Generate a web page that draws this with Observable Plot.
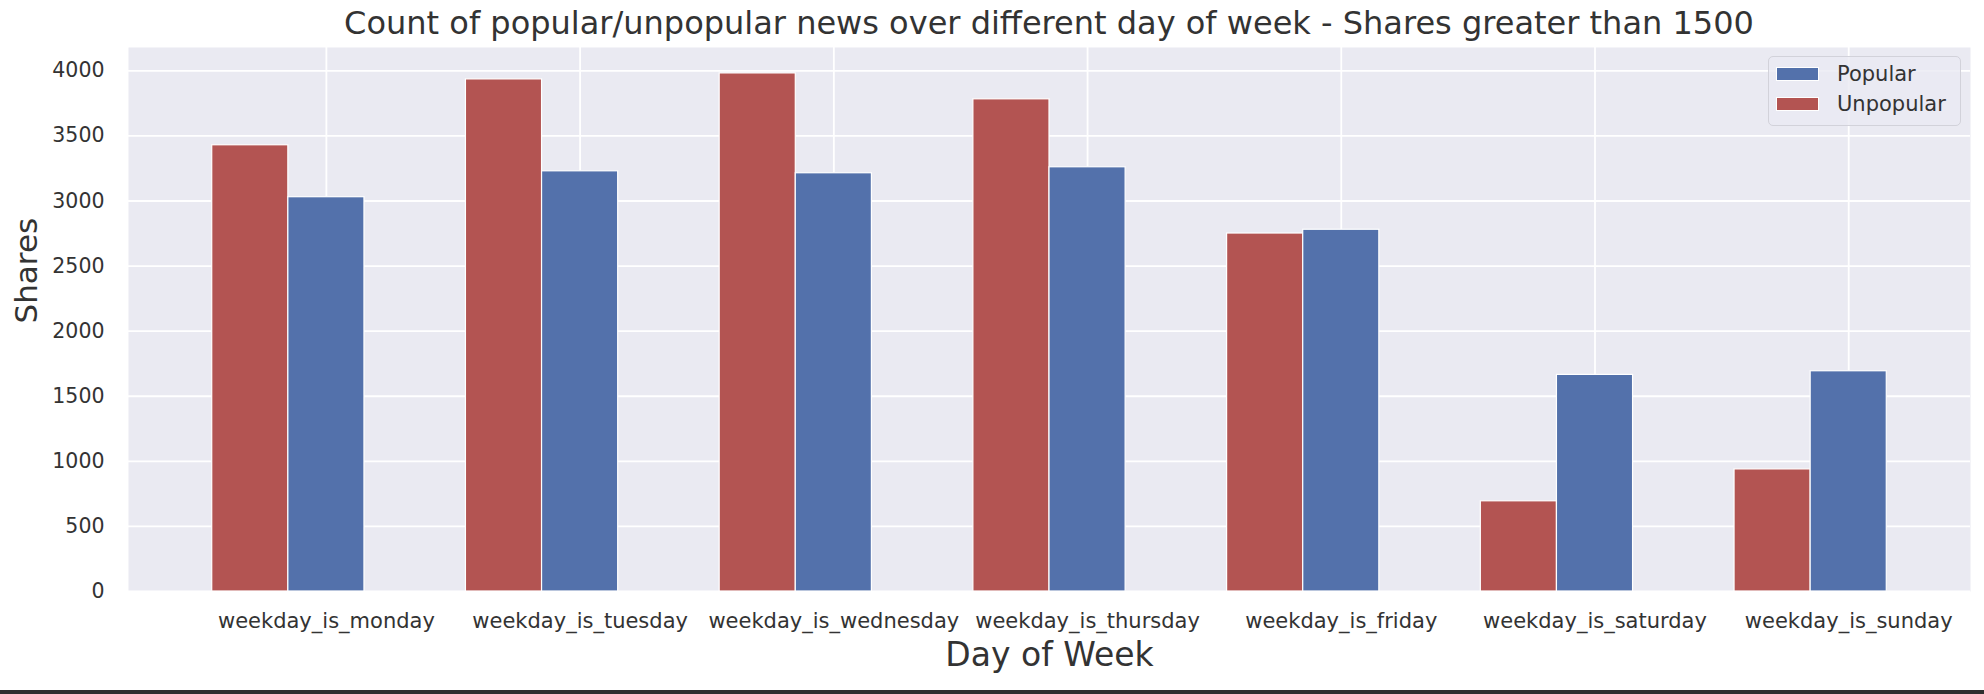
<!DOCTYPE html>
<html>
<head>
<meta charset="utf-8">
<script src="https://cdn.jsdelivr.net/npm/d3@7"></script>
<script src="https://cdn.jsdelivr.net/npm/@observablehq/plot@0.6"></script>
<style>
  html, body { margin: 0; padding: 0; background: #fff; }
  #wrap { position: relative; width: 1984px; height: 694px; overflow: hidden;
          font-family: "DejaVu Sans", sans-serif; color: #333333; }
  #title { position: absolute; left: 128px; width: 1842px; top: 7px; text-align: center;
           font-size: 32px; line-height: 32px; white-space: nowrap; }
  #chart { position: absolute; left: 0; top: 0; }
  #legend { position: absolute; left: 1768px; top: 56px; width: 191px; height: 68px;
            background: rgba(234,234,242,0.8); border: 1px solid #d2d2da; border-radius: 5px; }
  .item { position: absolute; left: 0; height: 30px; width: 191px; }
  .sw { position: absolute; left: 7px; width: 43px; height: 14px; box-sizing: border-box; border: 1px solid #fff; }
  .lab { position: absolute; left: 68px; font-size: 21px; line-height: 21px; white-space: nowrap; }
  #bottombar { position: absolute; left: 0; top: 690px; width: 1984px; height: 4px; background: #2e2e2e; }
</style>
</head>
<body>
<div id="wrap">
  <div id="chart"></div>
  <div id="title"></div>
  <div id="legend"></div>
  <div id="bottombar"></div>
</div>
<script>
const days = ["weekday_is_monday", "weekday_is_tuesday", "weekday_is_wednesday", "weekday_is_thursday",
              "weekday_is_friday", "weekday_is_saturday", "weekday_is_sunday"];
const unpopular = [3428, 3934, 3980, 3781, 2750, 693, 938];
const popular = [3029, 3228, 3213, 3259, 2779, 1664, 1692];
const yTicks = [0, 500, 1000, 1500, 2000, 2500, 3000, 3500, 4000];
const seriesNames = ["Popular", "Unpopular"];
const seriesColors = ["#5371AB", "#B35452"];
const titleText = "Count of popular/unpopular news over different day of week - Shares greater than 1500";
const xLabel = "Day of Week";
const yLabel = "Shares";

const rows = days.map((d, i) => ({day: d, i, popular: popular[i], unpopular: unpopular[i]}));
const idx = d3.range(days.length);

const chart = Plot.plot({
  width: 1984,
  height: 694,
  marginTop: 47,
  marginBottom: 103,
  marginLeft: 128,
  marginRight: 14,
  style: {fontFamily: "DejaVu Sans", color: "#333333", background: "transparent"},
  x: {type: "linear", domain: [-0.78, 6.48]},
  y: {domain: [0, 4179]},
  marks: [
    Plot.frame({fill: "#EAEAF2", stroke: "none"}),
    Plot.gridY(yTicks, {stroke: "white", strokeOpacity: 1, strokeWidth: 1.8}),
    Plot.gridX(idx, {stroke: "white", strokeOpacity: 1, strokeWidth: 1.8}),
    Plot.rect(rows, {x1: d => d.i - 0.45, x2: d => d.i - 0.15, y1: d => 0, y2: "unpopular",
                     fill: seriesColors[1], stroke: "white", strokeWidth: 1.2}),
    Plot.rect(rows, {x1: d => d.i - 0.15, x2: d => d.i + 0.15, y1: d => 0, y2: "popular",
                     fill: seriesColors[0], stroke: "white", strokeWidth: 1.2}),
    Plot.axisY(yTicks, {tickSize: 0, tickPadding: 24, fontSize: 20.5, tickFormat: d3.format("d"), label: null}),
    Plot.axisX(idx, {tickSize: 0, tickPadding: 22, fontSize: 21, tickFormat: i => days[i], label: null}),
    Plot.text([yLabel], {frameAnchor: "left", rotate: -90, dx: -101, dy: 4, fontSize: 31, fill: "#333333"}),
    Plot.text([xLabel], {frameAnchor: "bottom", dy: 74, fontSize: 33, fill: "#333333"})
  ]
});
document.getElementById("chart").appendChild(chart);
document.getElementById("title").textContent = titleText;

const legend = document.getElementById("legend");
seriesNames.forEach((name, k) => {
  const item = document.createElement("div");
  item.className = "item";
  item.style.top = (k * 30) + "px";
  const sw = document.createElement("div");
  sw.className = "sw";
  sw.style.background = seriesColors[k];
  sw.style.top = "10px";
  const lab = document.createElement("div");
  lab.className = "lab";
  lab.style.top = "7px";
  lab.textContent = name;
  item.appendChild(sw);
  item.appendChild(lab);
  legend.appendChild(item);
});
</script>
</body>
</html>
